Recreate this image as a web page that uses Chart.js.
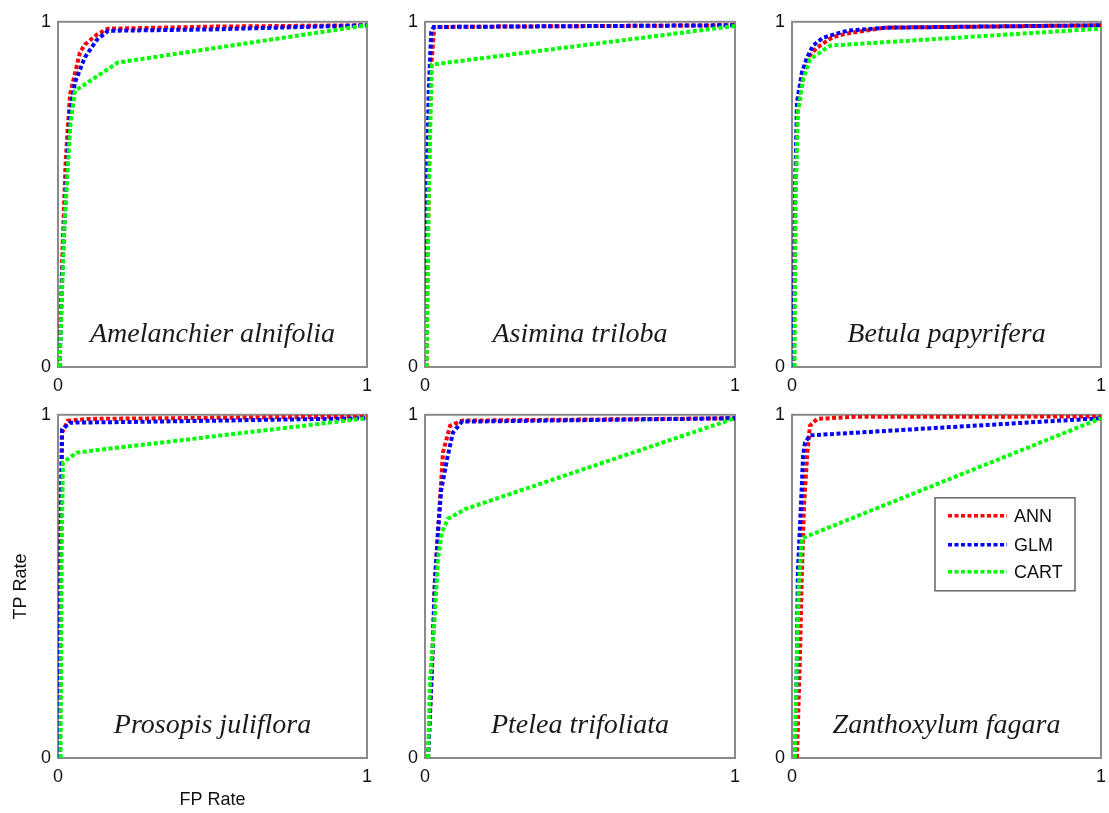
<!DOCTYPE html>
<html>
<head>
<meta charset="utf-8">
<script src="https://cdn.jsdelivr.net/npm/chart.js@4.4.1/dist/chart.umd.min.js"></script>
<style>
  html, body { margin: 0; padding: 0; background: #fff; overflow: hidden; }
  #wrap { position: relative; width: 1109px; height: 813px; overflow: hidden; }
  #wrap canvas { position: absolute; }
</style>
</head>
<body>
<div id="wrap"></div>
<script>
// ROC curves (FP rate, TP rate) for three classifiers per species
const species = ['Amelanchier alnifolia', 'Asimina triloba', 'Betula papyrifera',
                 'Prosopis juliflora', 'Ptelea trifoliata', 'Zanthoxylum fagara'];
const methods = ['ANN', 'GLM', 'CART'];
const axisTicks = [0, 1];

const amelanchierANN  = [[0.005,0],[0.006,0.05],[0.015,0.35],[0.025,0.6],[0.039,0.79],[0.071,0.911],[0.087,0.934],[0.126,0.963],[0.162,0.98],[0.5,0.986],[1,0.99]];
const amelanchierGLM  = [[0.005,0],[0.015,0.3],[0.028,0.55],[0.039,0.74],[0.055,0.825],[0.087,0.897],[0.126,0.948],[0.162,0.974],[0.5,0.978],[1,0.99]];
const amelanchierCART = [[0.005,0],[0.02,0.4],[0.04,0.7],[0.055,0.8],[0.194,0.882],[1,0.99]];

const asiminaANN  = [[0.005,0],[0.01,0.4],[0.018,0.85],[0.03,0.985],[1,0.99]];
const asiminaGLM  = [[0.003,0],[0.006,0.5],[0.012,0.8],[0.02,0.97],[0.028,0.985],[1,0.99]];
const asiminaCART = [[0.005,0],[0.012,0.5],[0.022,0.876],[1,0.988]];

const betulaANN  = [[0.005,0],[0.01,0.5],[0.018,0.75],[0.036,0.85],[0.055,0.9],[0.081,0.925],[0.13,0.955],[0.178,0.966],[0.3,0.983],[1,0.99]];
const betulaGLM  = [[0.005,0],[0.01,0.5],[0.016,0.767],[0.032,0.853],[0.049,0.897],[0.068,0.931],[0.1,0.954],[0.178,0.974],[0.3,0.983],[1,0.99]];
const betulaCART = [[0.008,0],[0.012,0.5],[0.019,0.739],[0.036,0.833],[0.058,0.891],[0.123,0.931],[1,0.98]];

const prosopisANN  = [[0.005,0],[0.008,0.6],[0.013,0.948],[0.032,0.983],[0.1,0.988],[1,0.995]];
const prosopisGLM  = [[0.005,0],[0.008,0.6],[0.013,0.957],[0.039,0.977],[0.3,0.98],[1,0.99]];
const prosopisCART = [[0.008,0],[0.012,0.6],[0.016,0.861],[0.061,0.89],[1,0.99]];

const pteleaANN  = [[0.01,0],[0.023,0.275],[0.032,0.514],[0.042,0.659],[0.05,0.775],[0.058,0.89],[0.081,0.968],[0.119,0.983],[1,0.99]];
const pteleaGLM  = [[0.01,0],[0.023,0.275],[0.032,0.514],[0.042,0.659],[0.052,0.78],[0.071,0.87],[0.09,0.948],[0.119,0.98],[1,0.99]];
const pteleaCART = [[0.01,0],[0.016,0.225],[0.032,0.42],[0.042,0.581],[0.055,0.659],[0.074,0.697],[0.129,0.725],[1,0.99]];

const zanthoxylumANN  = [[0.016,0],[0.026,0.303],[0.032,0.543],[0.039,0.737],[0.049,0.882],[0.058,0.968],[0.081,0.988],[0.2,0.994],[1,0.995]];
const zanthoxylumGLM  = [[0.01,0],[0.016,0.303],[0.019,0.543],[0.029,0.737],[0.036,0.882],[0.042,0.919],[0.058,0.94],[1,0.99]];
const zanthoxylumCART = [[0.01,0],[0.016,0.3],[0.022,0.5],[0.032,0.64],[1,0.99]];

const curves = [
  [amelanchierANN, amelanchierGLM, amelanchierCART],
  [asiminaANN, asiminaGLM, asiminaCART],
  [betulaANN, betulaGLM, betulaCART],
  [prosopisANN, prosopisGLM, prosopisCART],
  [pteleaANN, pteleaGLM, pteleaCART],
  [zanthoxylumANN, zanthoxylumGLM, zanthoxylumCART]
];

const lineColors = ['#ff0000', '#0000ff', '#00ff00'];
const sans = '"Liberation Sans", Arial, sans-serif';
const serif = '"Liberation Serif", "Times New Roman", serif';

// panel boxes on the page: plot area left/top/width/height
const colLeft = [58, 425, 792], colWidth = [309, 310, 309];
const rowTop = [19, 412], rowHeight = [348, 346];

const framePlugin = {
  id: 'panelFrame',
  beforeDatasetsDraw(chart) {
    const { left, top, right, bottom } = chart.chartArea;
    const ctx = chart.ctx;
    ctx.save();
    ctx.strokeStyle = '#8a8a8a';
    ctx.lineWidth = 2;
    ctx.strokeRect(left, top, right - left, bottom - top);
    ctx.restore();
  },
  afterDatasetsDraw(chart, args, opts) {
    const { left, top, right, bottom } = chart.chartArea;
    const ctx = chart.ctx;
    ctx.save();
    ctx.fillStyle = '#1a1a1a';
    ctx.font = 'italic 28px ' + serif;
    ctx.textAlign = 'center';
    ctx.textBaseline = 'alphabetic';
    ctx.fillText(opts.name, (left + right) / 2, bottom - 25);
    if (opts.legend) {
      const bx = left + 143, by = top + 83, bw = 140, bh = 93;
      ctx.fillStyle = '#fff';
      ctx.fillRect(bx, by, bw, bh);
      ctx.strokeStyle = '#666';
      ctx.lineWidth = 1.5;
      ctx.strokeRect(bx, by, bw, bh);
      const rows = [18, 47, 74];
      chart.data.datasets.forEach((ds, i) => {
        const y = by + rows[i];
        ctx.strokeStyle = ds.borderColor;
        ctx.lineWidth = 3.5;
        ctx.setLineDash([4, 2.5]);
        ctx.beginPath();
        ctx.moveTo(bx + 13, y);
        ctx.lineTo(bx + 72, y);
        ctx.stroke();
        ctx.setLineDash([]);
        ctx.fillStyle = '#111';
        ctx.font = '18px ' + sans;
        ctx.textAlign = 'left';
        ctx.textBaseline = 'middle';
        ctx.fillText(ds.label, bx + 79, y + 1);
      });
    }
    ctx.restore();
  }
};

const wrap = document.getElementById('wrap');

species.forEach((name, idx) => {
  const r = Math.floor(idx / 3), c = idx % 3;
  const isCorner = (r === 1 && c === 0);
  const padL = isCorner ? 58 : 50;
  const padT = 15;
  const padR = 15;
  const padB = r === 1 ? (isCorner ? 55 : 35) : 35;
  const W = colWidth[c], H = rowHeight[r];

  const canvas = document.createElement('canvas');
  canvas.width = W + padL + padR;
  canvas.height = H + padT + padB;
  canvas.style.left = (colLeft[c] - padL) + 'px';
  canvas.style.top = (rowTop[r] - padT) + 'px';
  wrap.appendChild(canvas);

  const datasets = methods.map((m, k) => ({
    label: m,
    data: curves[idx][k].map(p => ({ x: p[0], y: p[1] })),
    showLine: true,
    borderColor: lineColors[k],
    backgroundColor: lineColors[k],
    borderWidth: 4,
    borderDash: [4, 2.5],
    borderCapStyle: 'butt',
    pointRadius: 0,
    tension: 0,
    fill: false,
    order: 2 - k
  }));

  const tickFont = { family: sans, size: 18 };

  new Chart(canvas, {
    type: 'scatter',
    data: { datasets },
    options: {
      responsive: false,
      animation: false,
      devicePixelRatio: 1,
      layout: { padding: { top: padT, right: padR, left: 0, bottom: 0 } },
      plugins: {
        legend: { display: false },
        tooltip: { enabled: false },
        panelFrame: { name: name, legend: idx === 5 }
      },
      scales: {
        x: {
          type: 'linear', min: 0, max: 1,
          afterBuildTicks: s => { s.ticks = axisTicks.map(v => ({ value: v })); },
          afterFit: s => { s.height = padB; },
          grid: { display: false, drawTicks: false },
          border: { display: false },
          ticks: { font: tickFont, color: '#111', padding: 8, maxRotation: 0, autoSkip: false,
                   callback: v => String(v) },
          title: { display: isCorner, text: 'FP Rate', font: tickFont, color: '#111',
                   padding: { top: 0, bottom: 2 } }
        },
        y: {
          type: 'linear', min: 0, max: 1,
          afterBuildTicks: s => { s.ticks = axisTicks.map(v => ({ value: v })); },
          afterFit: s => { s.width = padL; },
          grid: { display: false, drawTicks: false },
          border: { display: false },
          ticks: { font: tickFont, color: '#111', padding: 7, autoSkip: false,
                   callback: v => String(v) },
          title: { display: isCorner, text: 'TP Rate', font: tickFont, color: '#111',
                   padding: { top: 10, bottom: 0 } }
        }
      }
    },
    plugins: [framePlugin]
  });
});
</script>
</body>
</html>
